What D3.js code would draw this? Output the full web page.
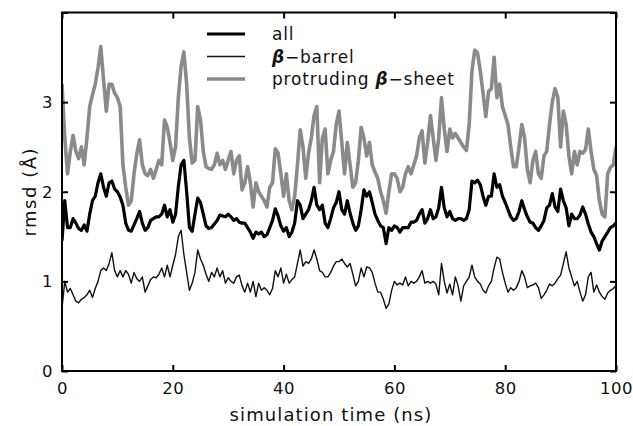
<!DOCTYPE html>
<html>
<head>
<meta charset="utf-8">
<script src="https://cdn.jsdelivr.net/npm/d3@7"></script>
<style>
  body { margin: 0; background: #fff; }
  svg { display: block; font-family: "DejaVu Sans", sans-serif; }
</style>
</head>
<body>
<svg width="633" height="426"></svg>
<script>
// rmsd traces, sampled every 0.5 ns from 0 to 100 ns
const protruding = [
  3.2, 2.6, 2.2, 2.45, 2.63, 2.45, 2.37, 2.5, 2.3, 2.6,
  2.95, 3.08, 3.2, 3.38, 3.62, 3.25, 2.9, 3.2, 3.2, 3.1,
  3.05, 2.95, 2.3, 2.05, 1.85, 1.9, 2.2, 2.42, 2.58, 2.3,
  2.2, 2.18, 2.25, 2.15, 2.25, 2.35, 2.3, 2.8, 2.72, 2.55,
  2.35, 2.5, 3.05, 3.4, 3.56, 3.2, 2.6, 2.32, 2.35, 2.95,
  2.8, 2.45, 2.28, 2.26, 2.25, 2.3, 2.43, 2.3, 2.35, 2.25,
  2.35, 2.45, 2.2, 2.35, 2.4, 2.02, 2.1, 2.28, 2.1, 1.83,
  2.1, 2.0, 1.95, 1.9, 1.83, 2.05, 2.1, 2.48, 2.43, 2.2,
  1.95, 2.2, 1.9, 1.8, 1.95, 2.3, 2.69, 2.5, 2.15, 2.43,
  2.6, 2.85, 2.95, 2.1, 2.6, 2.7, 2.2, 2.35, 2.45, 2.75,
  2.9, 2.55, 2.2, 2.55, 2.3, 2.05, 2.1, 2.35, 2.72, 2.6,
  2.4, 2.55, 2.3, 2.22, 2.15, 2.0, 1.9, 1.76, 2.0, 2.2,
  2.2, 2.15, 2.0, 2.05, 2.2, 2.28, 2.2, 2.3, 2.4, 2.6,
  2.68, 2.32, 2.55, 2.85, 2.6, 2.35, 2.6, 3.05, 2.7, 2.45,
  2.7, 2.6, 2.65, 2.6, 2.55, 2.5, 2.46, 2.75, 3.35, 3.58,
  3.55, 3.35, 3.1, 2.84, 3.12, 3.15, 3.5, 3.05, 3.2, 2.95,
  2.85, 2.75, 2.5, 2.28, 2.28, 2.5, 2.75, 2.6, 2.25, 2.1,
  2.35, 2.45, 2.2, 2.15, 2.4, 2.45, 2.75, 3.0, 3.15, 3.05,
  2.5, 2.9, 2.75, 2.4, 2.2, 2.45, 2.3, 2.45, 2.43, 2.47,
  2.7, 2.45, 2.25, 2.18, 1.9, 1.75, 1.72, 2.2, 2.27, 2.3,
  2.5
];
const all = [
  1.45, 1.9, 1.6, 1.6, 1.7, 1.65, 1.59, 1.57, 1.63, 1.56,
  1.75, 1.9, 1.95, 2.1, 2.2, 2.05, 1.95, 2.1, 2.12, 2.03,
  2.0, 1.94, 1.85, 1.65, 1.57, 1.56, 1.63, 1.7, 1.78, 1.65,
  1.57, 1.6, 1.68, 1.7, 1.72, 1.72, 1.75, 1.85, 1.72, 1.8,
  1.66, 1.75, 2.06, 2.3, 2.35, 2.0, 1.6, 1.56, 1.75, 1.93,
  1.88, 1.75, 1.62, 1.59, 1.6, 1.64, 1.68, 1.74, 1.73, 1.72,
  1.75, 1.72, 1.68, 1.7, 1.66, 1.65, 1.65, 1.6, 1.55, 1.48,
  1.55, 1.53, 1.55, 1.5, 1.52, 1.6, 1.68, 1.81, 1.73, 1.62,
  1.56, 1.6, 1.5, 1.55, 1.65, 1.9, 1.85, 1.7, 1.75, 1.8,
  1.9, 2.05, 1.85, 1.8, 1.85, 1.65, 1.6, 1.7, 1.82, 1.88,
  2.0, 1.8, 1.75, 1.9, 1.76, 1.65, 1.57, 1.62, 1.8, 2.02,
  1.95, 2.0, 1.88, 1.75, 1.68, 1.62, 1.6, 1.42, 1.6, 1.57,
  1.62, 1.6, 1.55, 1.6, 1.6, 1.6, 1.66, 1.66, 1.68, 1.75,
  1.8, 1.65, 1.7, 1.8, 1.7, 1.72, 1.82, 2.05, 1.82, 1.72,
  1.78, 1.7, 1.68, 1.7, 1.7, 1.68, 1.7, 1.8, 2.12, 2.1,
  2.13, 2.08, 1.95, 1.85, 1.95, 1.95, 2.2, 2.05, 2.08, 1.95,
  1.88, 1.8, 1.72, 1.68, 1.7, 1.78, 1.9, 1.8, 1.72, 1.66,
  1.65, 1.6, 1.57, 1.62, 1.68, 1.82, 1.85, 1.98, 1.83, 1.78,
  2.03, 1.9, 1.82, 1.62, 1.75, 1.7, 1.7, 1.74, 1.83, 1.75,
  1.64, 1.55, 1.5, 1.42, 1.35, 1.45, 1.5, 1.55, 1.6, 1.62,
  1.65
];
const barrel = [
  0.7, 1.0, 0.88, 0.92, 0.85, 0.78, 0.76, 0.8, 0.82, 0.85,
  0.9, 0.82, 0.92, 1.0, 1.12, 1.15, 1.12, 1.2, 1.32, 1.12,
  1.05, 1.12, 1.05, 1.12, 1.08, 0.98, 1.1, 1.03, 1.0, 1.05,
  0.88, 0.95, 1.02, 1.05, 1.04, 1.08, 1.15, 1.05, 1.18, 1.05,
  1.18, 1.3, 1.5, 1.57, 1.3, 1.1, 0.9, 0.98, 1.1, 1.35,
  1.25, 1.18, 1.08, 1.0, 1.1, 1.05, 1.15, 1.05, 1.12, 0.98,
  1.04, 1.0, 0.98, 1.05, 1.07, 0.95, 0.88, 0.98, 0.88, 1.0,
  0.83, 0.98, 0.9, 0.93, 0.9, 0.85, 0.92, 1.12, 1.05, 1.15,
  0.98, 1.08, 0.98, 1.02, 1.05, 1.2, 1.35, 1.17, 1.22, 1.2,
  1.25, 1.35, 1.25, 1.12, 1.1, 1.05, 1.05, 1.1, 1.17, 1.22,
  1.22, 1.25, 1.2, 1.16, 1.2, 1.08, 0.95, 1.0, 1.15, 1.05,
  1.16, 1.15, 1.1, 0.98, 0.88, 0.88, 0.8, 0.7, 0.75, 0.9,
  1.0, 0.96, 0.98, 0.96, 1.05, 0.95, 1.0, 0.98, 1.0, 1.05,
  1.12, 0.98, 1.0, 0.98, 1.0, 0.97, 0.85, 1.2, 1.0, 0.87,
  0.97, 0.85, 1.05, 0.95, 0.78, 0.95, 1.0, 1.05, 1.18, 1.05,
  1.0, 0.97, 0.9, 0.87, 0.95, 1.0, 1.15, 1.27, 1.25, 1.1,
  0.98, 0.88, 0.93, 0.9, 0.93, 1.0, 1.12, 1.05, 0.93, 0.95,
  0.96, 0.98, 0.93, 0.81, 0.85, 0.9, 0.97, 0.95, 0.98, 1.03,
  1.07, 1.2, 1.33, 1.15, 1.05, 0.95, 1.0, 0.88, 0.78, 0.85,
  1.05, 1.1, 0.88, 0.96, 0.88, 0.83, 0.8, 0.87, 0.9, 0.92,
  0.95
];
const xTicks = [0, 20, 40, 60, 80, 100];
const yTicks = [0, 1, 2, 3, 4];
const yLabels = [0, 1, 2, 3];

const time = d3.range(protruding.length).map(i => i * 0.5);

const series = [
  { name: "protruding", values: protruding, color: "#8a8a8a", width: 3.6 },
  { name: "all", values: all, color: "#000", width: 3.2 },
  { name: "barrel", values: barrel, color: "#111", width: 1.4 }
];

const svg = d3.select("svg");
const margin = { top: 12.5, right: 17, bottom: 55, left: 62 };
const width = 633 - margin.left - margin.right;
const height = 426 - margin.top - margin.bottom;

const g = svg.append("g").attr("transform", `translate(${margin.left},${margin.top})`);

const x = d3.scaleLinear().domain([0, 100]).range([0, width]);
const y = d3.scaleLinear().domain([0, 4]).range([height, 0]);

g.append("clipPath").attr("id", "clip")
  .append("rect").attr("width", width).attr("height", height);

const line = d3.line()
  .x((d, i) => x(time[i]))
  .y(d => y(d));

g.append("g").attr("clip-path", "url(#clip)")
  .selectAll("path")
  .data(series)
  .join("path")
  .attr("d", d => line(d.values))
  .attr("fill", "none")
  .attr("stroke", d => d.color)
  .attr("stroke-width", d => d.width)
  .attr("stroke-linejoin", "round");

// axes, ticks pointing inward on every side
const axBottom = g.append("g").attr("transform", `translate(0,${height})`)
  .call(d3.axisBottom(x).tickValues(xTicks).tickSizeInner(-6).tickSizeOuter(0).tickPadding(11));
const axLeft = g.append("g")
  .call(d3.axisLeft(y).tickValues(yTicks).tickSizeInner(-6).tickSizeOuter(0).tickPadding(9)
    .tickFormat(d => yLabels.includes(d) ? d : ""));
const axTop = g.append("g")
  .call(d3.axisTop(x).tickValues(xTicks).tickSizeInner(-6).tickSizeOuter(0).tickFormat(""));
const axRight = g.append("g").attr("transform", `translate(${width},0)`)
  .call(d3.axisRight(y).tickValues(yTicks).tickSizeInner(-6).tickSizeOuter(0).tickFormat(""));

[axBottom, axLeft, axTop, axRight].forEach(a => {
  a.select(".domain").remove();
  a.selectAll("line").attr("stroke", "#000").attr("stroke-width", 2);
  a.selectAll("text").attr("font-size", 16.5).attr("fill", "#111")
    .attr("letter-spacing", 0.5)
    .style("font-family", "'DejaVu Sans', sans-serif");
});

g.append("rect")
  .attr("width", width).attr("height", height)
  .attr("fill", "none").attr("stroke", "#000").attr("stroke-width", 2);

// axis titles
svg.append("text")
  .attr("x", 331).attr("y", 421)
  .attr("text-anchor", "middle").attr("font-size", 18).attr("fill", "#111")
  .attr("letter-spacing", 1.1)
  .text("simulation time (ns)");

svg.append("text")
  .attr("transform", `translate(36,${margin.top + height / 2}) rotate(-90)`)
  .attr("text-anchor", "middle").attr("font-size", 18).attr("fill", "#111")
  .attr("letter-spacing", 1.5)
  .text("rmsd (Å)");

// legend
const legend = [
  { label: ["all"], color: "#000", width: 3.2 },
  { label: ["β", "−barrel"], color: "#111", width: 1.4 },
  { label: ["protruding ", "β", "−sheet"], color: "#8a8a8a", width: 3.6 }
];
const lg = svg.append("g").attr("transform", "translate(207,34)");
legend.forEach((d, i) => {
  const row = lg.append("g").attr("transform", `translate(0,${i * 22.5})`);
  row.append("line").attr("x1", 0).attr("x2", 38)
    .attr("stroke", d.color).attr("stroke-width", d.width);
  const t = row.append("text").attr("x", 65).attr("y", 6)
    .attr("font-size", 17).attr("fill", "#111").attr("letter-spacing", 0.8);
  d.label.forEach(s => {
    const sp = t.append("tspan").text(s);
    if (s === "β") sp.attr("font-weight", "bold").attr("font-style", "italic");
  });
});
</script>
</body>
</html>
